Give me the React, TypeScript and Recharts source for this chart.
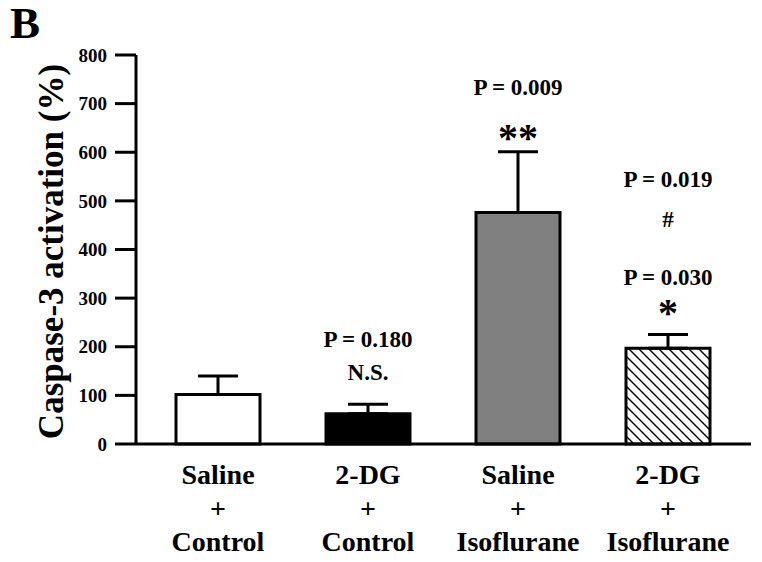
import { BarChart, Bar, XAxis, YAxis, Cell, ErrorBar, ReferenceDot } from 'recharts';

// group labels (three lines each)
const line1 = ['Saline', '2-DG', 'Saline', '2-DG'];
const line2 = ['+', '+', '+', '+'];
const line3 = ['Control', 'Control', 'Isoflurane', 'Isoflurane'];
const groups = ['Saline + Control', '2-DG + Control', 'Saline + Isoflurane', '2-DG + Isoflurane'];

// caspase-3 activation (%) and upper SEM
const means = [102, 62, 476, 197];
const sems = [38, 20, 125, 28];
const fills = ['#ffffff', '#000000', '#808080', 'url(#hatch)'];

const yTicks = [0, 100, 200, 300, 400, 500, 600, 700, 800];

// significance annotations: group index, y value, text, size
const annoGroup = [1, 1, 2, 2, 3, 3, 3, 3];
const annoY = [215, 148, 734, 630, 544, 462, 343, 270];
const annoText = ['P = 0.180', 'N.S.', 'P = 0.009', '**', 'P = 0.019', '#', 'P = 0.030', '*'];
const annoSize = [23, 23, 23, 40, 23, 23, 23, 40];

const data = groups.map((g, i) => ({ name: g, value: means[i], err: [0, sems[i]] }));

const FONT = '"Liberation Serif", "Times New Roman", serif';

const GroupTick = (props: any) => {
  const { x, y, index } = props;
  const base = { x, textAnchor: 'middle' as const, fontFamily: FONT, fontWeight: 'bold', fontSize: 28, fill: '#000' };
  return (
    <g>
      <text {...base} y={y + 32}>{line1[index]}</text>
      <text {...base} y={y + 66}>{line2[index]}</text>
      <text {...base} y={y + 99}>{line3[index]}</text>
    </g>
  );
};

export default function App() {
  return (
    <div style={{ position: 'absolute', left: 0, top: 0, width: 762, height: 562, background: '#fff' }}>
      <div
        style={{
          position: 'absolute',
          left: 10,
          top: 5,
          lineHeight: 0.8,
          fontFamily: FONT,
          fontWeight: 'bold',
          fontSize: 45,
        }}
      >
        B
      </div>
      <BarChart
        width={762}
        height={562}
        data={data}
        margin={{ top: 55, right: 11, left: 0, bottom: 0 }}
        barCategoryGap="22%"
      >
        <defs>
          <pattern id="hatch" patternUnits="userSpaceOnUse" width={10} height={10}>
            <rect width={10} height={10} fill="#fff" />
            <path d="M0,0 L10,10 M-5,5 L5,15 M5,-5 L15,5" stroke="#000" strokeWidth={1.4} />
          </pattern>
        </defs>
        <XAxis
          dataKey="name"
          height={118}
          padding={{ left: 7, right: 8 }}
          tickLine={false}
          axisLine={{ stroke: '#000', strokeWidth: 3 }}
          tick={<GroupTick />}
          interval={0}
        />
        <XAxis xAxisId="top" orientation="top" dataKey="name" height={0} tick={false} tickLine={false}
          axisLine={{ stroke: '#000', strokeWidth: 3 }} />
        <YAxis
          width={136}
          domain={[0, 800]}
          ticks={yTicks}
          interval={0}
          tickSize={21}
          tickMargin={8}
          tickLine={{ stroke: '#000', strokeWidth: 3 }}
          axisLine={{ stroke: '#000', strokeWidth: 3 }}
          tick={{ fill: '#000', fontFamily: FONT, fontWeight: 'bold', fontSize: 19 }}
          label={(props: any) => {
            const vb = props.viewBox;
            const cx = vb.x + 51;
            const cy = vb.y + vb.height / 2 + 2;
            return (
              <text x={cx} y={cy} transform={`rotate(-90 ${cx} ${cy})`} textAnchor="middle" dominantBaseline="central"
                fontFamily={FONT} fontWeight="bold" fontSize={35} fill="#000">
                Caspase-3 activation (%)
              </text>
            );
          }}
        />
        <YAxis yAxisId="right" orientation="right" width={0} domain={[0, 800]} tick={false} tickLine={false}
          axisLine={{ stroke: '#000', strokeWidth: 3 }} />
        <Bar dataKey="value" stroke="#000" strokeWidth={3} isAnimationActive={false}>
          {data.map((d, i) => (
            <Cell key={d.name} fill={fills[i]} />
          ))}
          <ErrorBar dataKey="err" direction="y" width={20} stroke="#000" strokeWidth={3} isAnimationActive={false} />
        </Bar>
        {annoText.map((t, i) => (
          <ReferenceDot
            key={i}
            x={groups[annoGroup[i]]}
            y={annoY[i]}
            r={0}
            stroke="none"
            fill="none"
            label={(p: any) => {
              const vb = p.viewBox;
              const cx = vb.x + vb.width / 2;
              const cy = vb.y + vb.height / 2;
              return (
                <text x={cx} y={cy} textAnchor="middle" dominantBaseline="central" fontFamily={FONT}
                  fontWeight="bold" fontSize={annoSize[i]} fill="#000">
                  {t}
                </text>
              );
            }}
          />
        ))}
      </BarChart>
    </div>
  );
}
